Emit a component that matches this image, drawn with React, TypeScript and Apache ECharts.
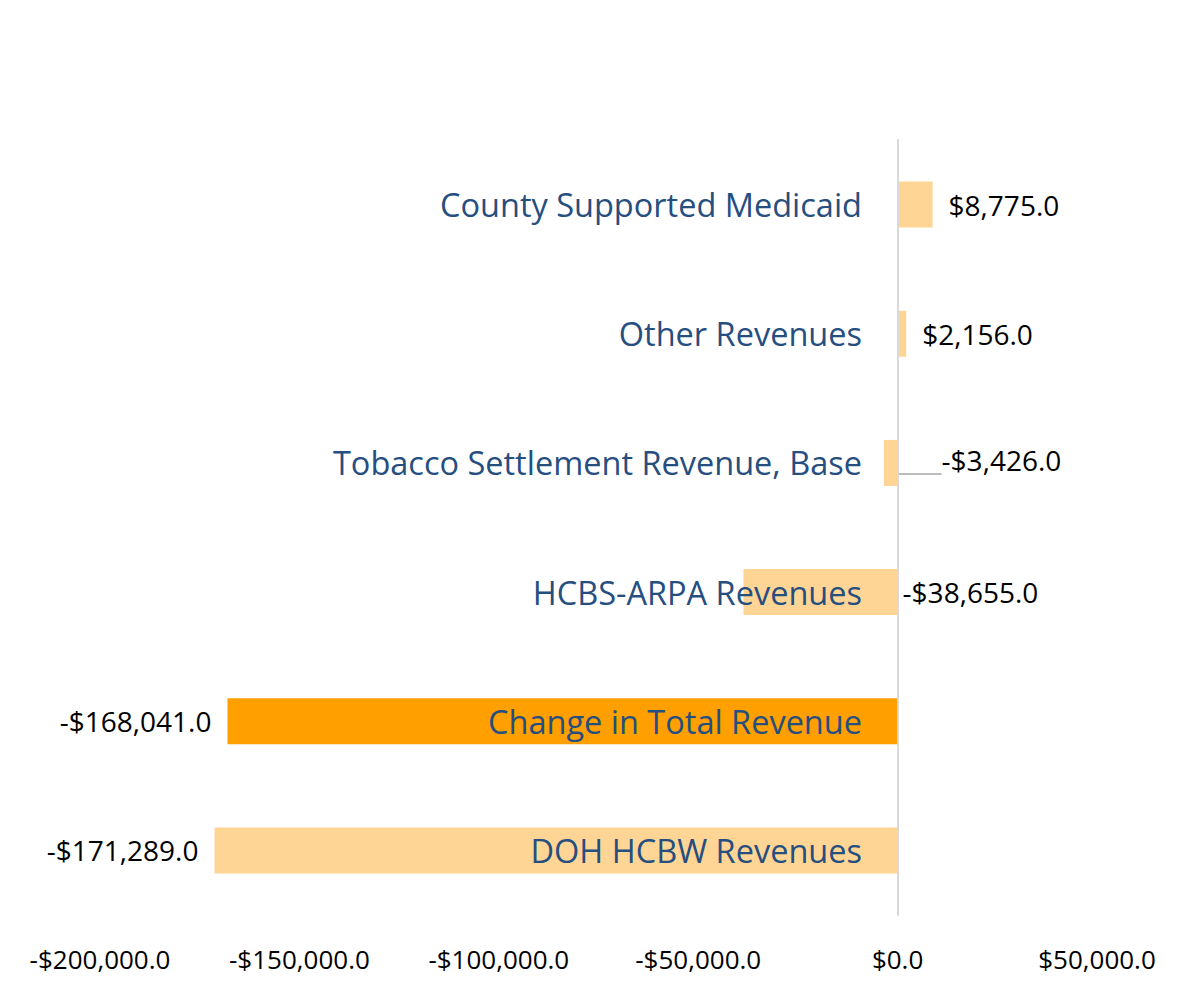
import React, { useEffect, useRef } from "react";
import * as echarts from "echarts";

const categories = [
  "DOH HCBW Revenues",
  "Change in Total Revenue",
  "HCBS-ARPA Revenues",
  "Tobacco Settlement Revenue, Base",
  "Other Revenues",
  "County Supported Medicaid",
];
const values = [-171289, -168041, -38655, -3426, 2156, 8775];
const barColors = ["#FFD596", "#FF9F00", "#FFD596", "#FFD596", "#FFD596", "#FFD596"];
const xTicks = { min: -200000, max: 50000, interval: 50000 };

const fmt = (v: number) => {
  const s = "$" + Math.abs(v).toLocaleString("en-US", { minimumFractionDigits: 1, maximumFractionDigits: 1 });
  return v < 0 ? "-" + s : s;
};

export default function App() {
  const ref = useRef<HTMLDivElement>(null);
  useEffect(() => {
    document.body.style.margin = "0";
    const chart = echarts.init(ref.current!, null, { renderer: "svg" });
    const data = values.map((v, i) => {
      const item: any = { value: v, itemStyle: { color: barColors[i] } };
      if (i === 2) {
        item.label = { position: "right", distance: 5 };
      }
      if (i === 3) {
        item.label = { position: "right", distance: 44, offset: [0, -3] };
        item.labelLine = { show: true, lineStyle: { color: "#A6A6A6", width: 1.5 } };
      }
      return item;
    });
    chart.setOption({
      animation: false,
      backgroundColor: "#ffffff",
      grid: { left: 100, right: 89, top: 140, bottom: 81, containLabel: false, outerBoundsMode: "none" },
      xAxis: {
        type: "value",
        min: xTicks.min,
        max: xTicks.max,
        interval: xTicks.interval,
        axisLine: { show: false },
        axisTick: { show: false },
        splitLine: { show: false },
        axisLabel: {
          formatter: (v: number) => fmt(v),
          fontFamily: "Open Sans",
          fontSize: 26,
          color: "#000000",
          margin: 31,
        },
      },
      yAxis: {
        type: "category",
        data: categories,
        z: 5,
        axisLine: { show: true, onZero: true, lineStyle: { color: "#D9D9D9", width: 2 } },
        axisTick: { show: false },
        axisLabel: {
          fontFamily: "Open Sans",
          fontSize: 32.5,
          color: "#264E7F",
          margin: -762,
          align: "right",
        },
      },
      series: [
        {
          type: "bar",
          data,
          barWidth: 46,
          z: 2,
          label: {
            show: true,
            position: "outside",
            distance: 16,
            fontFamily: "Open Sans",
            fontSize: 28,
            color: "#000000",
            formatter: (p: any) => fmt(p.value),
          },
        },
      ],
    });
    return () => chart.dispose();
  }, []);
  return <div ref={ref} style={{ width: 1186, height: 996 }} />;
}
